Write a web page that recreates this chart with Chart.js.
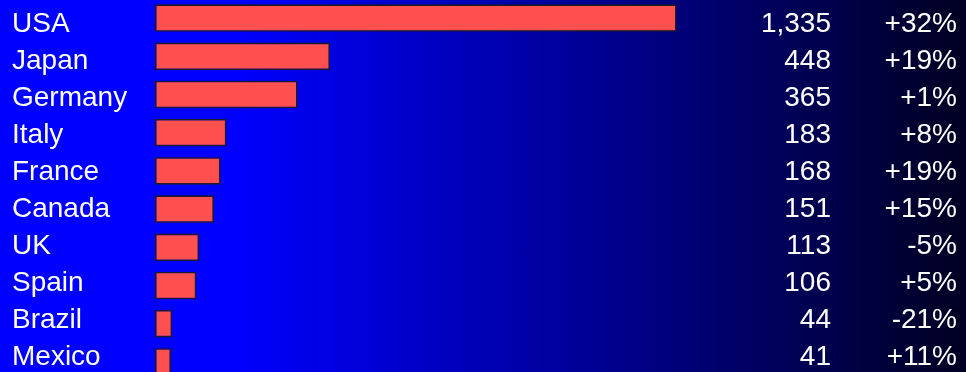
<!DOCTYPE html>
<html>
<head>
<meta charset="utf-8">
<title>Units by country</title>
<script src="https://cdn.jsdelivr.net/npm/chart.js@4/dist/chart.umd.min.js"></script>
<style>
  html, body {
    margin: 0;
    padding: 0;
    width: 966px;
    height: 372px;
    overflow: hidden;
    background: linear-gradient(to right, #0000ff 0px, #0000ff 235px, #000022 966px);
  }
  #wrap { position: absolute; left: 0; top: -1px; }
</style>
</head>
<body>
<div id="wrap"><canvas id="sales" width="966" height="382"></canvas></div>
<script>
const countries = ['USA', 'Japan', 'Germany', 'Italy', 'France', 'Canada', 'UK', 'Spain', 'Brazil', 'Mexico'];
const units = [1335, 448, 365, 183, 168, 151, 113, 106, 44, 41];
const growth = [32, 19, 1, 8, 19, 15, -5, 5, -21, 11];

function fmtGrowth(v) {
  return (v > 0 ? '+' : '') + v + '%';
}

// country name on the left, units and growth in two right-hand columns.
// text baselines follow the category scale, on a slightly tighter pitch than the bars
const rowText = {
  id: 'rowText',
  afterDatasetsDraw(chart, args, opts) {
    const ctx = chart.ctx;
    const yScale = chart.scales.y;
    ctx.save();
    ctx.fillStyle = opts.color;
    ctx.font = opts.font;
    ctx.textBaseline = 'alphabetic';
    countries.forEach((name, i) => {
      const y = yScale.getPixelForValue(opts.rowShift + i * opts.rowStep);
      ctx.textAlign = 'left';
      ctx.fillText(name, opts.nameX, y);
      ctx.textAlign = 'right';
      ctx.fillText(units[i].toLocaleString('en-US'), opts.unitsX, y);
      ctx.fillText(fmtGrowth(growth[i]), opts.growthX, y);
    });
    ctx.restore();
  }
};

new Chart(document.getElementById('sales'), {
  type: 'bar',
  data: {
    labels: countries,
    datasets: [{
      data: units,
      backgroundColor: '#ff5050',
      borderColor: '#1c1a22',
      borderWidth: 1.6,
      borderSkipped: false,
      barPercentage: 0.72,
      categoryPercentage: 1
    }]
  },
  options: {
    indexAxis: 'y',
    responsive: false,
    animation: false,
    layout: { padding: { left: 155, right: 29.5, top: 0, bottom: 0 } },
    scales: {
      x: { type: 'linear', display: false, min: 0, max: 2000 },
      y: { type: 'category', display: false }
    },
    plugins: {
      legend: { display: false },
      tooltip: { enabled: false },
      rowText: {
        color: '#ffffff',
        font: '28px "Liberation Sans", Arial, sans-serif',
        nameX: 12,
        unitsX: 831,
        growthX: 957,
        rowShift: 0.372,
        rowStep: 0.968
      }
    }
  },
  plugins: [rowText]
});
</script>
</body>
</html>
